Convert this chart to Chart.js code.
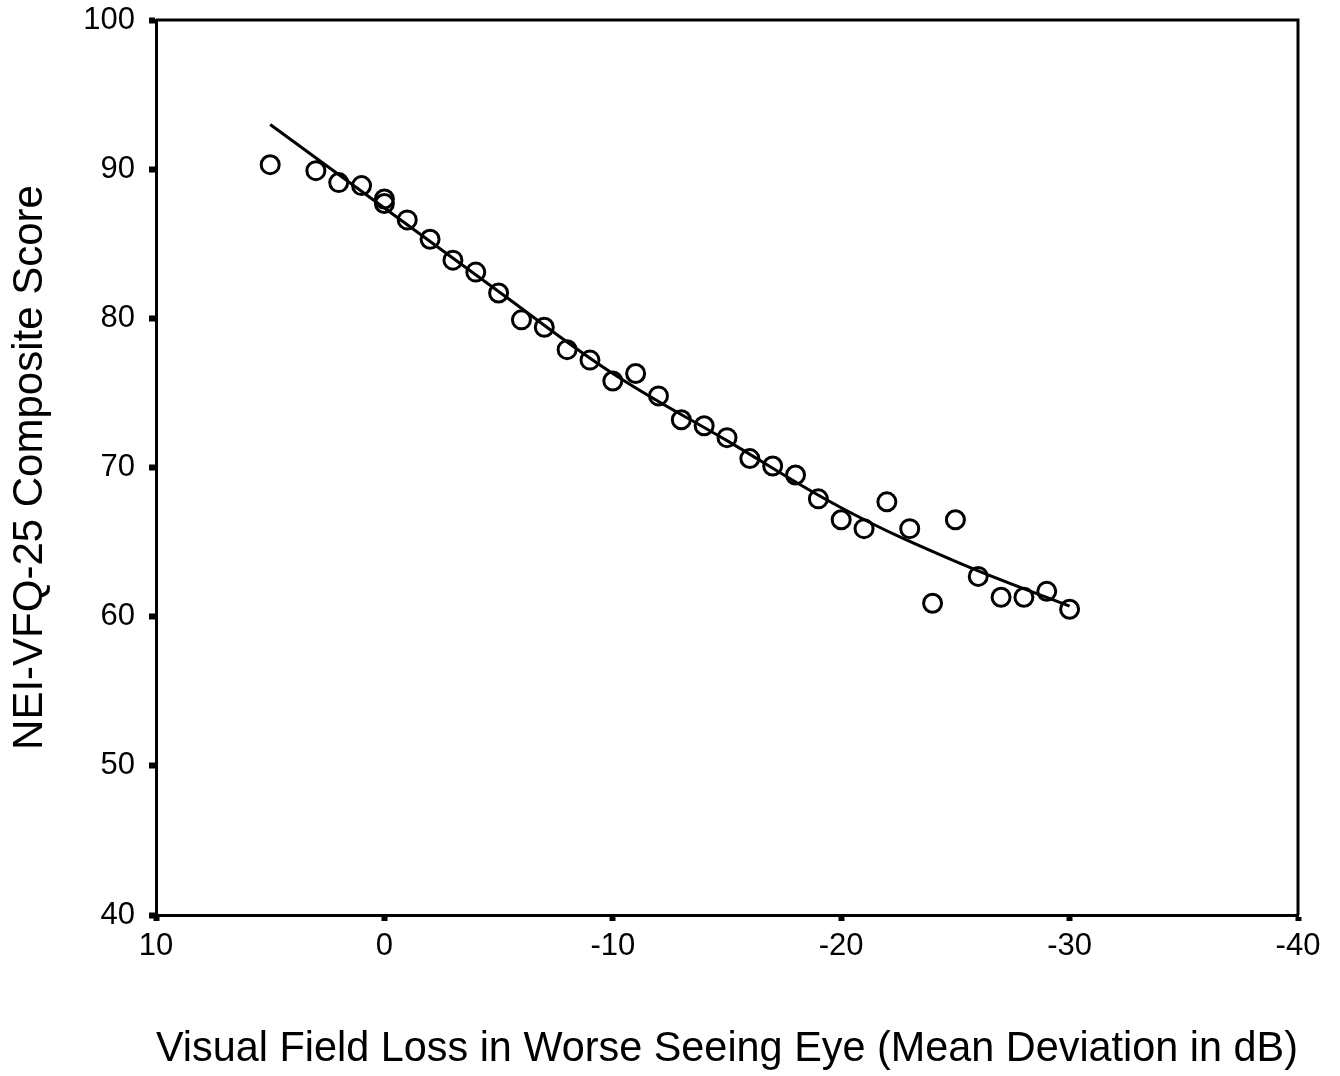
<!DOCTYPE html>
<html>
<head>
<meta charset="utf-8">
<script src="https://cdn.jsdelivr.net/npm/chart.js@4/dist/chart.umd.min.js"></script>
<style>
  html, body { margin: 0; padding: 0; background: #ffffff; }
  #wrap { width: 1340px; height: 1076px; position: relative; }
</style>
</head>
<body>
<div id="wrap"><canvas id="c" width="1340" height="1076"></canvas></div>
<script>
// Mean deviation (dB) in worse seeing eye, and NEI-VFQ-25 composite score
const mdValues  = [5, 3, 2, 1, 0, 0, -1, -2, -3, -4, -5, -6, -7, -8, -9, -10, -11, -12, -13, -14, -15, -16, -17, -18, -19, -20, -21, -22, -23, -24, -25, -26, -27, -28, -29, -30];
const vfqScores = [90.3, 89.9, 89.1, 88.9, 88.0, 87.7, 86.6, 85.3, 83.9, 83.1, 81.7, 79.9, 79.4, 77.9, 77.2, 75.8, 76.3, 74.8, 73.2, 72.8, 72.0, 70.6, 70.1, 69.5, 67.9, 66.5, 65.9, 67.7, 65.9, 60.9, 66.5, 62.7, 61.3, 61.3, 61.7, 60.5];

// Fitted curve
const fitX = [5, 0, -5, -10, -15, -20, -25, -30];
const fitY = [93.0, 87.4, 81.8, 76.3, 71.8, 67.3, 63.7, 60.7];

// Axis ticks
const xTickValues = [10, 0, -10, -20, -30, -40];
const yTickValues = [40, 50, 60, 70, 80, 90, 100];

const xTitle = 'Visual Field Loss in Worse Seeing Eye (Mean Deviation in dB)';
const yTitle = 'NEI-VFQ-25 Composite Score';

const FONT = '"Liberation Sans", Arial, Helvetica, sans-serif';

const scatterData = mdValues.map((x, i) => ({ x: x, y: vfqScores[i] }));
const fitData = fitX.map((x, i) => ({ x: x, y: fitY[i] }));

const boxPlugin = {
  id: 'boxPlugin',
  afterDraw(chart) {
    const a = chart.chartArea;
    const ctx = chart.ctx;
    ctx.save();
    ctx.strokeStyle = '#000';
    ctx.lineWidth = 3;
    ctx.beginPath();
    ctx.moveTo(a.left, a.top);
    ctx.lineTo(a.right, a.top);
    ctx.lineTo(a.right, a.bottom);
    ctx.stroke();
    ctx.restore();
  }
};

new Chart(document.getElementById('c'), {
  type: 'scatter',
  data: {
    datasets: [
      {
        type: 'line',
        data: fitData,
        borderColor: '#000',
        borderWidth: 3,
        pointRadius: 0,
        tension: 0.4,
        fill: false,
        order: 2
      },
      {
        data: scatterData,
        pointRadius: 9,
        pointBorderWidth: 3,
        borderColor: '#000',
        backgroundColor: 'rgba(0,0,0,0)',
        pointStyle: 'circle',
        order: 1
      }
    ]
  },
  options: {
    responsive: false,
    animation: false,
    events: [],
    layout: { padding: { top: 20, right: 42, left: 0, bottom: 0 } },
    plugins: {
      legend: { display: false },
      tooltip: { enabled: false }
    },
    scales: {
      x: {
        type: 'linear',
        reverse: true,
        min: -40,
        max: 10,
        afterBuildTicks(scale) { scale.ticks = xTickValues.map(v => ({ value: v })); },
        afterFit(scale) { scale.height = 161; scale.paddingLeft = 0; scale.paddingRight = 0; },
        ticks: {
          color: '#000',
          font: { family: FONT, size: 31 },
          padding: 7,
          maxRotation: 0,
          callback: (v) => String(v)
        },
        grid: {
          drawOnChartArea: false,
          drawTicks: true,
          tickLength: 6,
          tickWidth: 6,
          tickColor: '#000'
        },
        border: { display: true, color: '#000', width: 3 },
        title: {
          display: true,
          text: xTitle,
          color: '#000',
          font: { family: FONT, size: 42, lineHeight: 1 },
          padding: { top: 0, bottom: 6 }
        }
      },
      y: {
        type: 'linear',
        min: 40,
        max: 100,
        afterBuildTicks(scale) { scale.ticks = yTickValues.map(v => ({ value: v })); },
        afterFit(scale) { scale.width = 156; scale.paddingTop = 0; scale.paddingBottom = 0; },
        ticks: {
          color: '#000',
          font: { family: FONT, size: 31 },
          padding: 14,
          callback: (v) => String(v)
        },
        grid: {
          drawOnChartArea: false,
          drawTicks: true,
          tickLength: 7,
          tickWidth: 6,
          tickColor: '#000'
        },
        border: { display: true, color: '#000', width: 3 },
        title: {
          display: true,
          text: yTitle,
          color: '#000',
          font: { family: FONT, size: 42, lineHeight: 1 },
          padding: { top: 9, bottom: 0 }
        }
      }
    }
  },
  plugins: [boxPlugin]
});
</script>
</body>
</html>
